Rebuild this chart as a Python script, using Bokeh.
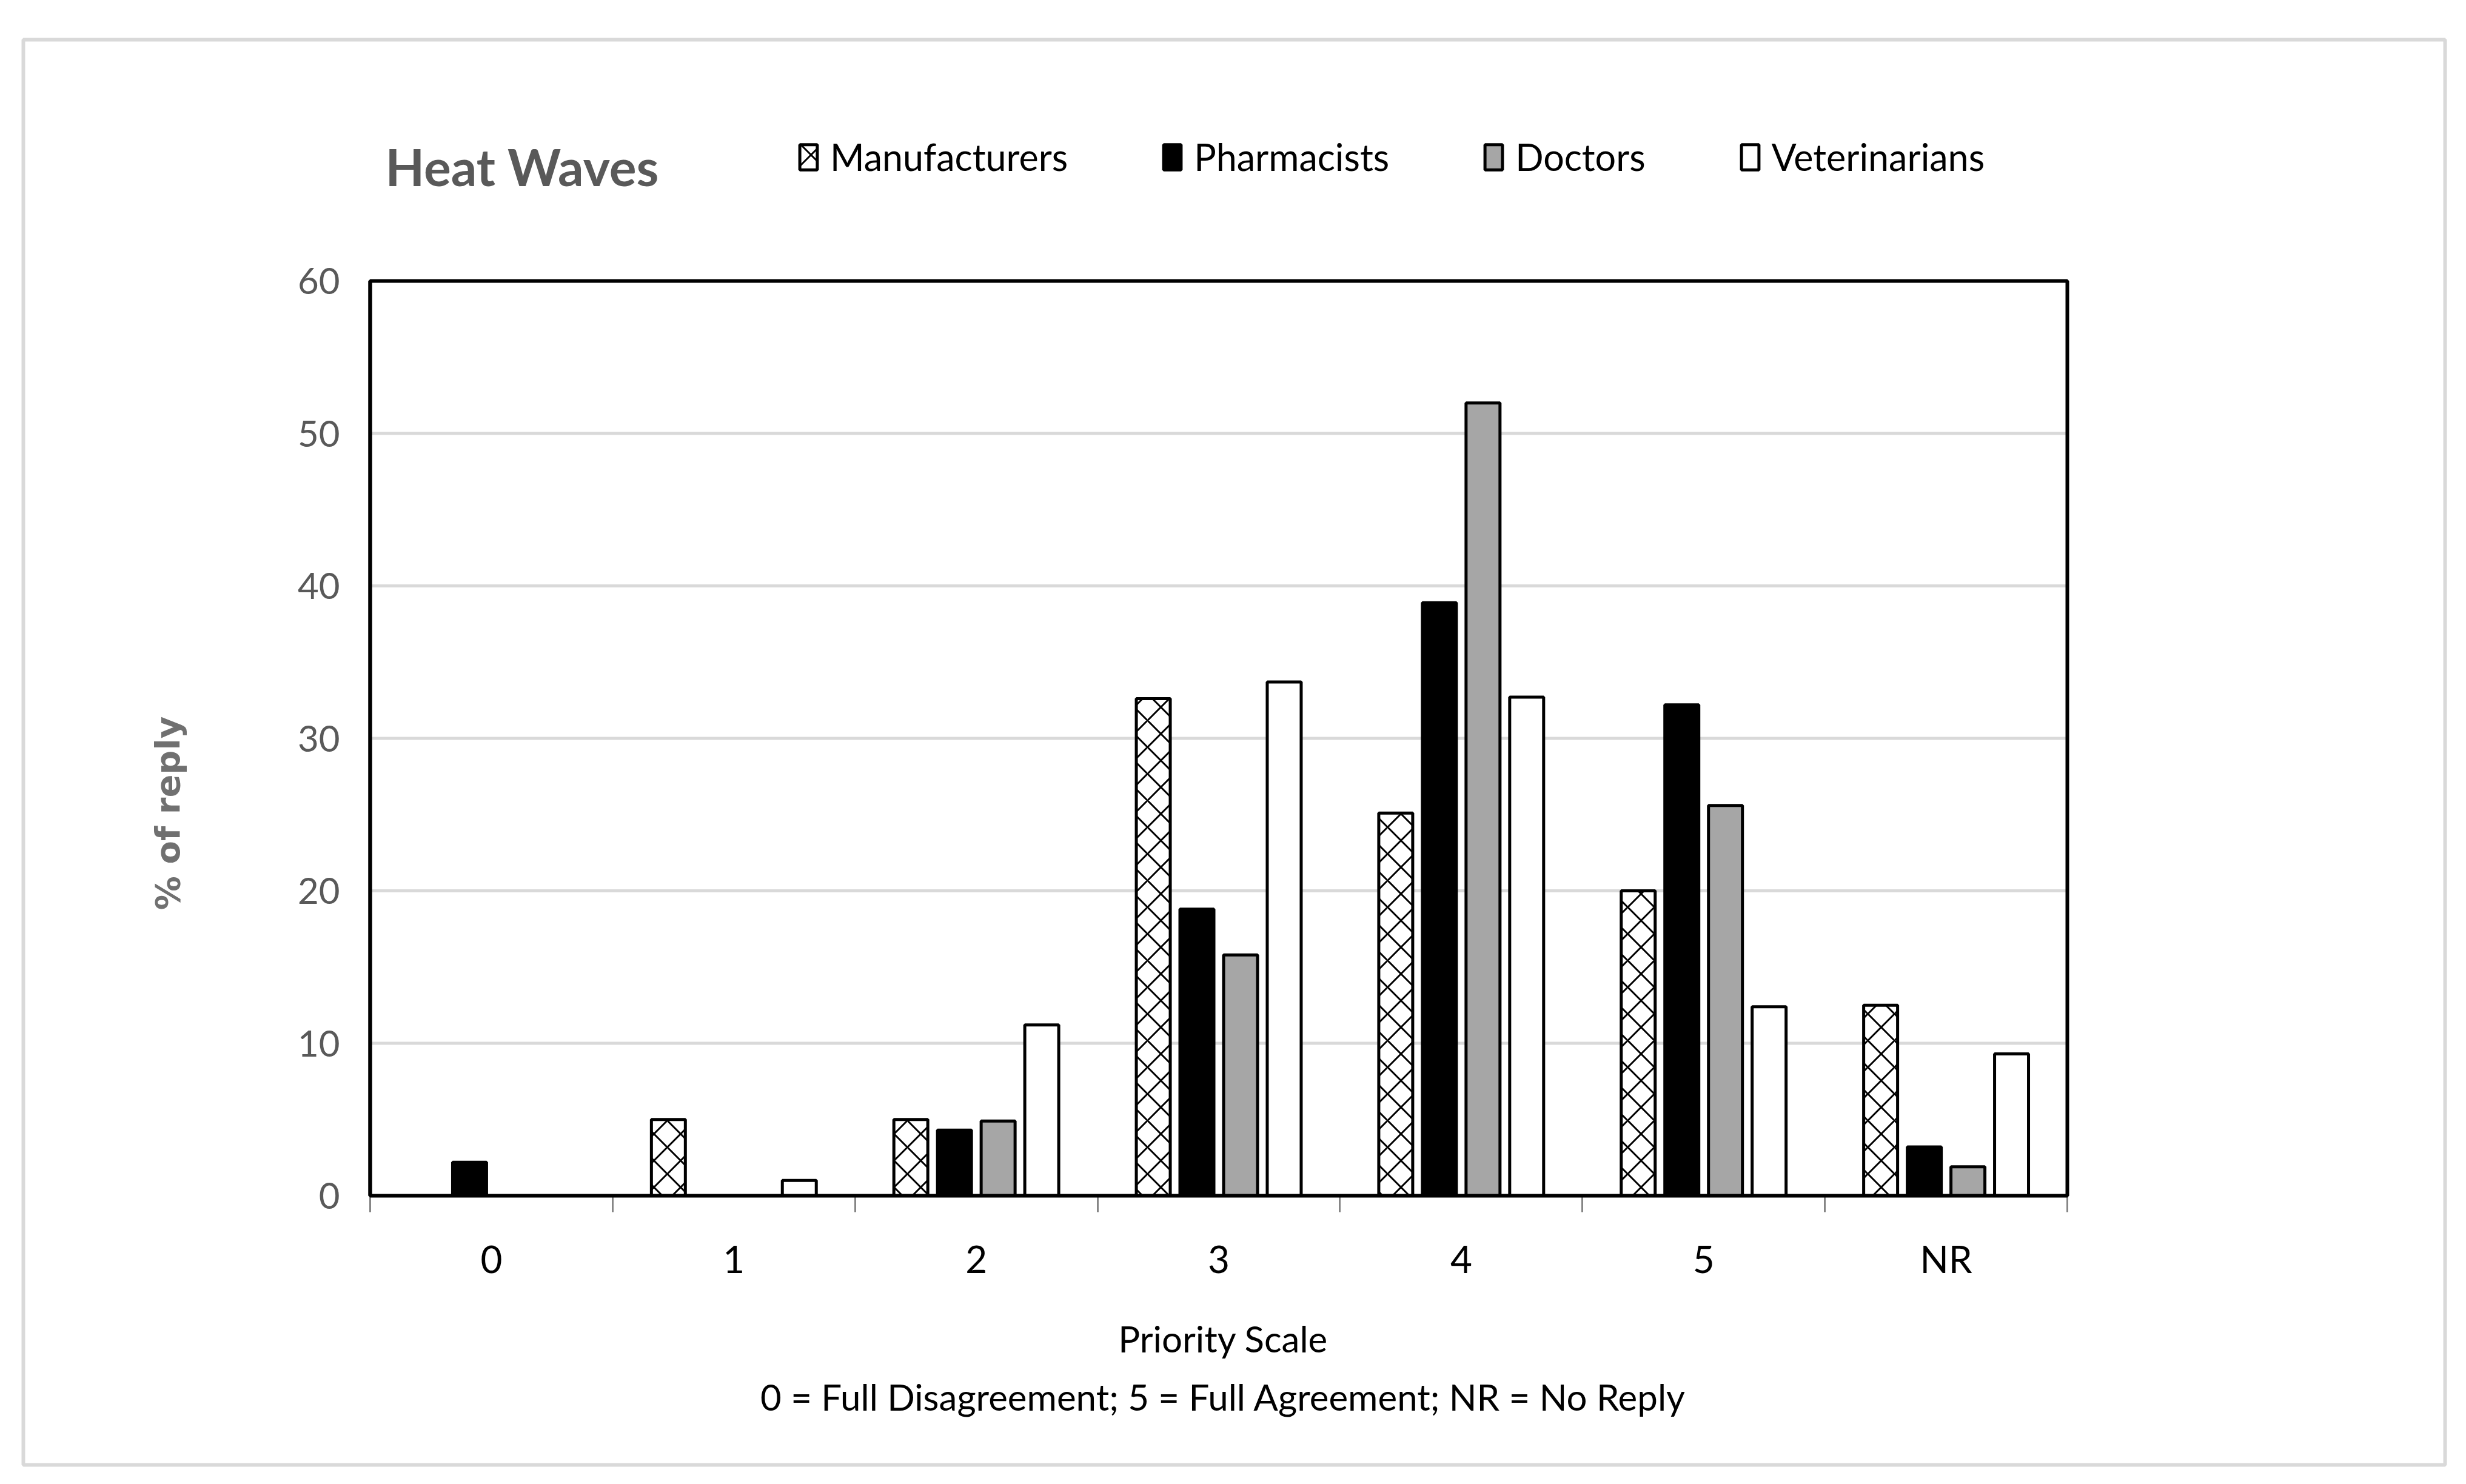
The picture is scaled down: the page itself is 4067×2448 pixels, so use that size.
import numpy as np
from bokeh.plotting import figure
from bokeh.models import (Range1d, FixedTicker, Legend, LegendItem, Label,
                          BoxAnnotation, ColumnDataSource)
from bokeh.transform import dodge
from bokeh.embed import file_html
from bokeh.resources import INLINE

# ---------------- data ----------------
categories = ["0", "1", "2", "3", "4", "5", "NR"]
manufacturers = [0.0, 5.0, 5.0, 32.6, 25.1, 20.0, 12.5]
pharmacists = [2.2, 0.0, 4.3, 18.8, 38.9, 32.2, 3.2]
doctors = [0.0, 0.0, 4.9, 15.8, 52.0, 25.6, 1.9]
veterinarians = [0.0, 1.0, 11.2, 33.7, 32.7, 12.4, 9.3]
series_names = ["Manufacturers", "Pharmacists", "Doctors", "Veterinarians"]
y_ticks = [0, 10, 20, 30, 40, 50, 60]
title_text = "Heat Waves"
y_title = "% of reply"
x_title = "Priority Scale"
x_note = "0 = Full Disagreement; 5 = Full Agreement; NR = No Reply"

FONT = "Lato"

# ---------------- geometry (figure pixels, y from top) ----------------
W, H = 4050, 2430
FL, FR, FT, FB = 610, 3409, 463, 1972   # plot-area edges
ncat = len(categories)
ymin, ymax = y_ticks[0], y_ticks[-1]
px_cat = (FR - FL) / ncat
px_unit = (FB - FT) / (ymax - ymin)
x_range = Range1d(-FL / px_cat, ncat + (W - FR) / px_cat)
y_range = Range1d(ymin - (H - FB) / px_unit, ymax + FT / px_unit)

src = ColumnDataSource(dict(
    x=np.arange(ncat) + 0.5,
    manufacturers=manufacturers, pharmacists=pharmacists,
    doctors=doctors, veterinarians=veterinarians))

p = figure(width=W, height=H, x_range=x_range, y_range=y_range, title=None,
           output_backend="svg", toolbar_location=None,
           min_border_left=0, min_border_right=0, min_border_top=0, min_border_bottom=0)
p.background_fill_color = "white"
p.border_fill_color = "white"
p.outline_line_color = None
p.xgrid.visible = False
p.ygrid.visible = False

# y axis (fixed at x = 0)
p.yaxis.fixed_location = 0
p.yaxis.bounds = (ymin, ymax)
p.yaxis.ticker = FixedTicker(ticks=y_ticks)
p.yaxis.axis_line_color = "black"
p.yaxis.axis_line_width = 6
p.yaxis.major_tick_line_color = None
p.yaxis.major_tick_out = 0
p.yaxis.major_tick_in = 0
p.yaxis.minor_tick_line_color = None
p.yaxis.major_label_text_font = FONT
p.yaxis.major_label_text_font_size = "60px"
p.yaxis.major_label_text_color = "#595959"
p.yaxis.major_label_standoff = 50

# x axis (fixed at y = 0)
centers = list(np.arange(ncat) + 0.5)
bounds = list(range(ncat + 1))
p.xaxis.fixed_location = 0
p.xaxis.bounds = (0, ncat)
p.xaxis.ticker = FixedTicker(ticks=centers, minor_ticks=bounds)
p.xaxis.major_label_overrides = {float(c): lab for c, lab in zip(centers, categories)}
p.xaxis.axis_line_color = "#868686"
p.xaxis.axis_line_width = 3
p.xaxis.major_tick_line_color = None
p.xaxis.major_tick_out = 0
p.xaxis.major_tick_in = 0
p.xaxis.minor_tick_line_color = "#868686"
p.xaxis.minor_tick_line_width = 3
p.xaxis.minor_tick_out = 27
p.xaxis.minor_tick_in = 0
p.xaxis.major_label_text_font = FONT
p.xaxis.major_label_text_font_size = "62px"
p.xaxis.major_label_text_color = "black"
p.xaxis.major_label_standoff = 39

# horizontal gridlines from the tick values
grid_src = ColumnDataSource(dict(y=y_ticks[1:-1]))
p.segment(x0=0, x1=ncat, y0="y", y1="y", source=grid_src,
          line_color="#d9d9d9", line_width=5)

# bars
offsets = [-0.27, -0.09, 0.09, 0.27]
cols = ["manufacturers", "pharmacists", "doctors", "veterinarians"]
fills = ["white", "black", "#a6a6a6", "white"]
renderers = []
for col, off, fc in zip(cols, offsets, fills):
    kw = {}
    if col == "manufacturers":
        kw = dict(hatch_pattern="x", hatch_color="black", hatch_scale=44, hatch_weight=3)
    r = p.vbar(x=dodge("x", off, range=p.x_range), top=col, bottom=0, width=0.14,
               source=src, fill_color=fc, line_color="black", line_width=5, **kw)
    renderers.append(r)

# plot-area border
p.add_layout(BoxAnnotation(left=0, right=ncat, bottom=ymin, top=ymax,
                           fill_alpha=0, line_color="black", line_alpha=1.0, line_width=6))

# legend
legend = Legend(items=[LegendItem(label=n, renderers=[r]) for n, r in zip(series_names, renderers)],
                orientation="horizontal", location=(1315, H - 295),
                spacing=154, label_standoff=18, glyph_width=36, glyph_height=52,
                label_height=52, padding=0, margin=0,
                border_line_color=None, background_fill_alpha=0,
                label_text_font=FONT, label_text_font_size="61px", label_text_color="black")
p.add_layout(legend)

# texts
p.add_layout(Label(x=635, y=H - 274, x_units="screen", y_units="screen", text=title_text,
                   text_font=FONT, text_font_style="bold", text_font_size="84px",
                   text_color="#595959", text_baseline="alphabetic", text_align="left"))
p.add_layout(Label(x=276, y=H - 1341, x_units="screen", y_units="screen", text=y_title,
                   angle=np.pi / 2, text_font="DejaVu Sans", text_font_style="bold",
                   text_font_size="56px", text_color="#707070",
                   text_align="center", text_baseline="middle"))
p.add_layout(Label(x=2017, y=H - 2207, x_units="screen", y_units="screen", text=x_title,
                   text_font=FONT, text_font_size="60px", text_color="black",
                   text_align="center", text_baseline="middle"))
p.add_layout(Label(x=2017, y=H - 2303, x_units="screen", y_units="screen", text=x_note,
                   text_font=FONT, text_font_size="60px", text_color="black",
                   text_align="center", text_baseline="middle"))

# outer light border
p.add_layout(BoxAnnotation(left=38, right=4032, bottom=H - 2416, top=H - 65,
                           left_units="screen", right_units="screen",
                           bottom_units="screen", top_units="screen",
                           fill_alpha=0, line_color="#d9d9d9", line_alpha=1.0, line_width=6))

open("out.html", "w").write(file_html(p, INLINE))
